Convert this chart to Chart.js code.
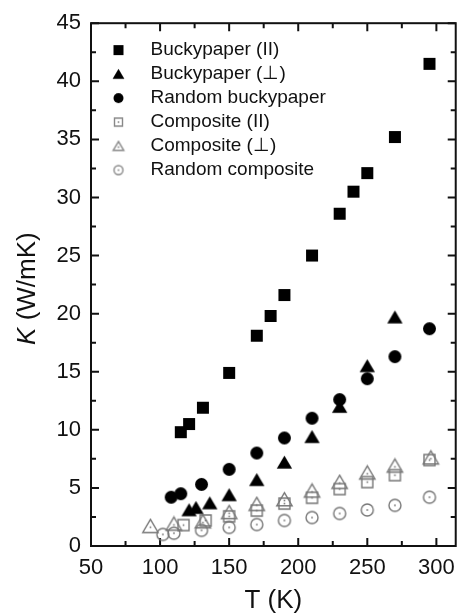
<!DOCTYPE html>
<html lang="en">
<head>
<meta charset="UTF-8">
<title>Thermal conductivity vs temperature</title>
<script src="https://cdn.jsdelivr.net/npm/chart.js"></script>
<style>
  html, body { margin: 0; padding: 0; background: #fff; }
</style>
</head>
<body>
<canvas id="kChart" width="464" height="616"></canvas>
<script>
// T (K) and K (W/mK)
var bpParT = [115, 121, 131, 150, 170, 180, 190, 210, 230, 240, 250, 270, 295];
var bpParK = [9.8, 10.5, 11.9, 14.9, 18.1, 19.8, 21.6, 25.0, 28.6, 30.5, 32.1, 35.2, 41.5];

var bpPerpT = [121, 126, 136, 150, 170, 190, 210, 230, 250, 270];
var bpPerpK = [3.1, 3.3, 3.7, 4.4, 5.7, 7.2, 9.4, 12.0, 15.5, 19.7];

var bpRandT = [108, 115, 130, 150, 170, 190, 210, 230, 250, 270, 295];
var bpRandK = [4.2, 4.5, 5.3, 6.6, 8.0, 9.3, 11.0, 12.6, 14.4, 16.3, 18.7];

var compParT = [117, 133, 150, 170, 190, 210, 230, 250, 270, 295];
var compParK = [1.8, 2.2, 2.55, 3.05, 3.65, 4.15, 4.9, 5.5, 6.1, 7.4];

var compPerpT = [93, 110, 131, 150, 170, 190, 210, 230, 250, 270, 296];
var compPerpK = [1.7, 1.9, 2.1, 2.9, 3.6, 4.0, 4.75, 5.5, 6.3, 6.9, 7.6];

var compRandT = [102, 110, 130, 150, 170, 190, 210, 230, 250, 270, 295];
var compRandK = [1.0, 1.1, 1.35, 1.6, 1.85, 2.2, 2.45, 2.8, 3.1, 3.5, 4.2];

var seriesNames = ['Buckypaper (II)', 'Buckypaper (\u22A5)', 'Random buckypaper',
                   'Composite (II)', 'Composite (\u22A5)', 'Random composite'];

var FONT = "'Liberation Sans', Arial, Helvetica, sans-serif";
var INK = '#111';
var GREY = '#777';

// small canvases used as point styles
function makeMarker(shape, size, filled, color, dot) {
    var c = document.createElement('canvas');
    var w = Math.ceil(size * 1.3) + 4, h = Math.ceil(size) + 4;
    c.width = w; c.height = h;
    var g = c.getContext('2d');
    var cx = w / 2, cy = h / 2, r = size / 2;
    g.fillStyle = color; g.strokeStyle = color; g.lineWidth = 1.4;
    g.beginPath();
    if (shape === 'square') {
        g.rect(cx - r, cy - r, size, size);
    } else if (shape === 'circle') {
        g.arc(cx, cy, r, 0, Math.PI * 2);
    } else {
        g.moveTo(cx, cy - r * 1.05);
        g.lineTo(cx + r * 1.18, cy + r * 0.95);
        g.lineTo(cx - r * 1.18, cy + r * 0.95);
        g.closePath();
    }
    if (filled) g.fill(); else g.stroke();
    if (dot) g.fillRect(cx - 0.8, cy - 0.8 + (shape === 'triangle' ? 1 : 0), 1.6, 1.6);
    return c;
}

var plotIcons = [
    makeMarker('square', 12, true, '#000'),
    makeMarker('triangle', 13, true, '#000'),
    makeMarker('circle', 13, true, '#000'),
    makeMarker('square', 11, false, GREY, true),
    makeMarker('triangle', 13, false, GREY, true),
    makeMarker('circle', 12, false, GREY, true)
];
var legendIcons = [
    makeMarker('square', 10, true, '#000'),
    makeMarker('triangle', 10, true, '#000'),
    makeMarker('circle', 10, true, '#000'),
    makeMarker('square', 8, false, '#888', true),
    makeMarker('triangle', 9, false, '#888', true),
    makeMarker('circle', 9, false, '#888', true)
];

function pts(xs, ys) {
    return xs.map(function (x, i) { return { x: x, y: ys[i] }; });
}

var allT = [bpParT, bpPerpT, bpRandT, compParT, compPerpT, compRandT];
var allK = [bpParK, bpPerpK, bpRandK, compParK, compPerpK, compRandK];

// open symbols drawn first, filled ones on top
var datasets = seriesNames.map(function (name, i) {
    return {
        label: name,
        data: pts(allT[i], allK[i]),
        pointStyle: plotIcons[i],
        showLine: false,
        order: i < 3 ? 0 : 1
    };
});

// box frame with inward ticks on all four sides, plus the y title
var frameTicks = {
    id: 'frameTicks',
    beforeDatasetsDraw: function (chart) {
        var a = chart.chartArea, xs = chart.scales.x, ys = chart.scales.y, ctx = chart.ctx;
        ctx.save();
        ctx.strokeStyle = INK;
        ctx.lineWidth = 2;
        ctx.strokeRect(a.left, a.top, a.right - a.left, a.bottom - a.top);
        ctx.beginPath();
        xs.ticks.forEach(function (t) {
            var px = xs.getPixelForValue(t.value);
            var len = t.value % 50 === 0 ? 8 : 5;
            ctx.moveTo(px, a.bottom); ctx.lineTo(px, a.bottom - len);
            ctx.moveTo(px, a.top); ctx.lineTo(px, a.top + len);
        });
        ys.ticks.forEach(function (t) {
            var py = ys.getPixelForValue(t.value);
            var len = t.value % 5 === 0 ? 8 : 5;
            ctx.moveTo(a.left, py); ctx.lineTo(a.left + len, py);
            ctx.moveTo(a.right, py); ctx.lineTo(a.right - len, py);
        });
        ctx.stroke();
        ctx.restore();
    },
    afterDraw: function (chart) {
        var a = chart.chartArea, ctx = chart.ctx;
        var italic = 'italic 26px ' + FONT, normal = '26px ' + FONT;
        ctx.save();
        ctx.font = italic; var w1 = ctx.measureText('K').width;
        ctx.font = normal; var w2 = ctx.measureText(' (W/mK)').width;
        ctx.translate(a.left - 56, (a.top + a.bottom) / 2 + 4);
        ctx.rotate(-Math.PI / 2);
        ctx.fillStyle = INK;
        ctx.textBaseline = 'alphabetic';
        ctx.textAlign = 'left';
        var x0 = -(w1 + w2) / 2;
        ctx.font = italic; ctx.fillText('K', x0, 0);
        ctx.font = normal; ctx.fillText(' (W/mK)', x0 + w1, 0);
        ctx.restore();
    }
};

var ctx = document.getElementById('kChart').getContext('2d');
var kChart = new Chart(ctx, {
    type: 'scatter',
    data: { datasets: datasets },
    options: {
        responsive: false,
        animation: false,
        devicePixelRatio: 1,
        layout: { padding: { left: 0, right: 3, top: 22, bottom: 0 } },
        scales: {
            x: {
                type: 'linear',
                min: 50,
                max: 314,
                grid: { display: false, drawTicks: false },
                border: { display: false },
                ticks: {
                    stepSize: 25,
                    includeBounds: false,
                    autoSkip: false,
                    maxRotation: 0,
                    padding: 9,
                    color: INK,
                    font: { family: FONT, size: 22 },
                    callback: function (v) { return v % 50 === 0 ? v : ''; }
                },
                title: {
                    display: true,
                    text: 'T (K)',
                    color: INK,
                    font: { family: FONT, size: 26 },
                    padding: { top: 0, bottom: 0 }
                },
                afterFit: function (scale) { scale.height = 70; }
            },
            y: {
                type: 'linear',
                min: 0,
                max: 45,
                grid: { display: false, drawTicks: false },
                border: { display: false },
                ticks: {
                    stepSize: 2.5,
                    autoSkip: false,
                    padding: 10,
                    color: INK,
                    font: { family: FONT, size: 22 },
                    callback: function (v) { return v % 5 === 0 ? v : ''; }
                },
                afterFit: function (scale) { scale.width = 91; }
            }
        },
        plugins: {
            tooltip: { enabled: false },
            legend: {
                position: 'chartArea',
                align: 'start',
                // empty title only pushes the entries down
                title: { display: true, text: '', font: { size: 8 }, padding: { top: 25, bottom: 1 } },
                labels: {
                    usePointStyle: true,
                    pointStyleWidth: 45,
                    boxHeight: 12,
                    padding: 5,
                    color: INK,
                    font: { family: FONT, size: 19 },
                    generateLabels: function (chart) {
                        var items = Chart.defaults.plugins.legend.labels.generateLabels(chart);
                        items.forEach(function (it) { it.pointStyle = legendIcons[it.datasetIndex]; });
                        return items;
                    }
                }
            }
        }
    },
    plugins: [frameTicks]
});
</script>
</body>
</html>
